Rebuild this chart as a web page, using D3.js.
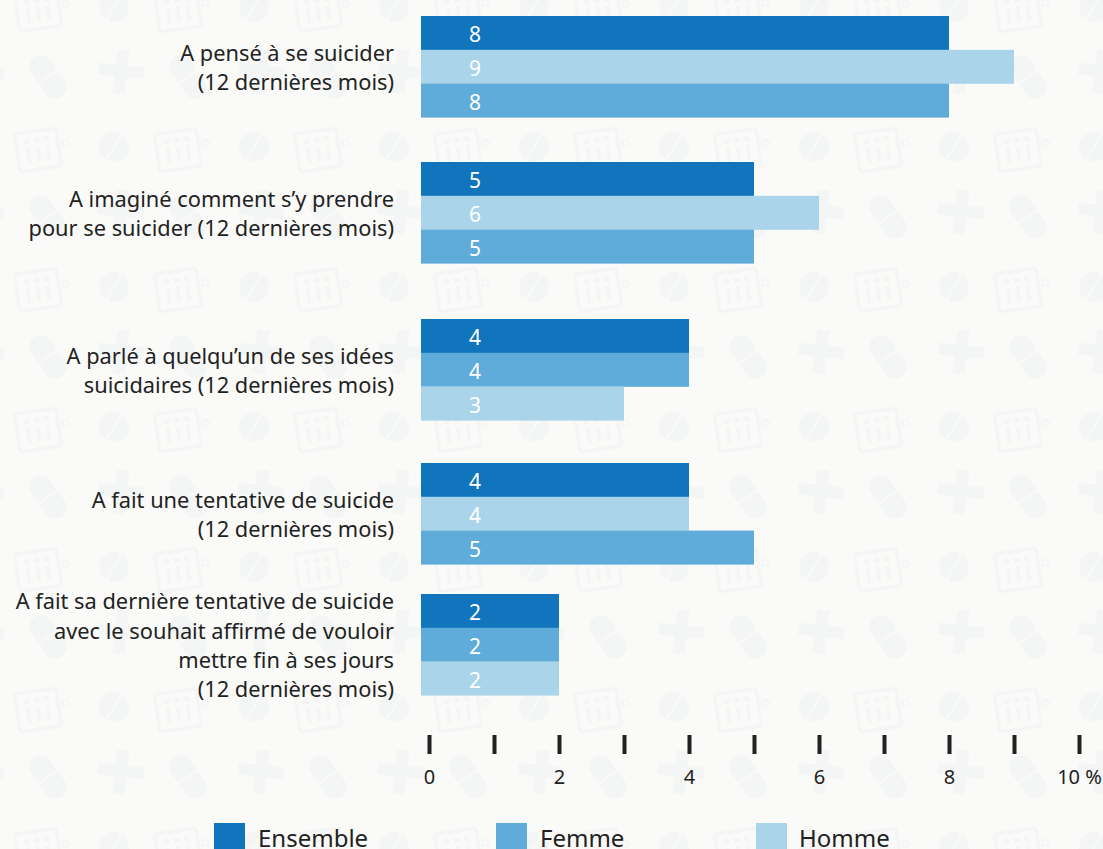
<!DOCTYPE html>
<html lang="fr"><head><meta charset="utf-8">
<script src="https://cdn.jsdelivr.net/npm/d3@7"></script>
<style>html,body{margin:0;padding:0;background:#fafaf8;overflow:hidden}svg{display:block}text{font-family:"Noto Sans",sans-serif}</style>
</head><body><div id="c"></div>
<script>
const categories = [
  ["A pensé à se suicider","(12 dernières mois)"],
  ["A imaginé comment s’y prendre","pour se suicider (12 dernières mois)"],
  ["A parlé à quelqu’un de ses idées","suicidaires (12 dernières mois)"],
  ["A fait une tentative de suicide","(12 dernières mois)"],
  ["A fait sa dernière tentative de suicide","avec le souhait affirmé de vouloir","mettre fin à ses jours","(12 dernières mois)"]
];
const seriesNames = ["Ensemble","Femme","Homme"];
const colors = ["#1075bd","#5fabd9","#aad4e9"];
const ensemble = [8,5,4,4,2];
const femme = [8,5,4,5,2];
const homme = [9,6,3,4,2];
const rowOrder = [["Ensemble","Homme","Femme"],["Ensemble","Homme","Femme"],["Ensemble","Femme","Homme"],["Ensemble","Homme","Femme"],["Ensemble","Femme","Homme"]];
const groupTops = [16,162,319,463,594];
const tickValues = [0,1,2,3,4,5,6,7,8,9,10];
const tickLabels = {0:"0",2:"2",4:"4",6:"6",8:"8",10:"10 %"};

const W=1103,H=849;
const svg=d3.select("#c").append("svg").attr("width",W).attr("height",H);
const defs=svg.append("defs");
const ic="#f4f6f5", bg="#fafaf8";
const p=defs.append("pattern").attr("id","bgp").attr("patternUnits","userSpaceOnUse")
  .attr("x",10).attr("y",50).attr("width",140).attr("height",140).attr("viewBox","10 50 140 140");
const pill=p.append("g").attr("transform","translate(48,77) rotate(-35)");
pill.append("rect").attr("x",-11.5).attr("y",-24).attr("width",23).attr("height",48).attr("rx",11.5).attr("fill",ic);
pill.append("line").attr("x1",-12).attr("x2",12).attr("y1",0).attr("y2",0).attr("stroke",bg).attr("stroke-width",2);
const plus=p.append("g").attr("transform","translate(121,71) rotate(6)").attr("fill",ic);
plus.append("rect").attr("x",-23).attr("y",-6).attr("width",46).attr("height",12);
plus.append("rect").attr("x",-6).attr("y",-23).attr("width",12).attr("height",46);
const tab=p.append("g").attr("transform","translate(114,147)");
tab.append("circle").attr("r",15).attr("fill",ic);
tab.append("line").attr("x1",-9).attr("y1",15).attr("x2",9).attr("y2",-15).attr("stroke",bg).attr("stroke-width",2);
const card=p.append("g").attr("transform","translate(38,150) rotate(-8)");
card.append("rect").attr("x",-21).attr("y",-19).attr("width",42).attr("height",38).attr("rx",3).attr("fill","none").attr("stroke",ic).attr("stroke-width",3.5);
card.append("circle").attr("cx",28).attr("cy",-3).attr("r",3.5).attr("fill","none").attr("stroke",ic).attr("stroke-width",2);
[-10,0,10].forEach(dx=>{
  card.append("circle").attr("cx",dx).attr("cy",-10).attr("r",3).attr("fill",ic);
  card.append("rect").attr("x",dx-2).attr("y",-4).attr("width",4).attr("height",16).attr("rx",2).attr("fill",ic);
});
svg.append("rect").attr("width",W).attr("height",H).attr("fill",bg);
svg.append("rect").attr("width",W).attr("height",H).attr("fill","url(#bgp)");

const x=d3.scaleLinear().domain([0,10]).range([429,1079]);
const barStart=421, rowH=33.8;
const valueOf={Ensemble:ensemble,Femme:femme,Homme:homme};
const color=d3.scaleOrdinal(seriesNames,colors);

categories.forEach((lines,i)=>{
  const g=svg.append("g");
  const top=groupTops[i];
  rowOrder[i].forEach((s,j)=>{
    const v=valueOf[s][i];
    g.append("rect").attr("x",barStart).attr("y",top+j*rowH).attr("width",x(v)-barStart).attr("height",rowH+0.2).attr("fill",color(s));
    g.append("text").attr("x",475).attr("y",top+j*rowH+rowH/2+9).attr("text-anchor","middle").attr("fill","#fff").attr("font-size",21).text(v);
  });
  const cy=top+rowH*1.5, lh=29.2;
  lines.forEach((l,k)=>{
    g.append("text").attr("x",394).attr("y",cy+(k-(lines.length-1)/2)*lh+8.5).attr("text-anchor","end")
      .attr("fill","#222").attr("font-size",21.8).text(l);
  });
});

const ax=svg.append("g").attr("transform","translate(0,735)")
 .call(d3.axisBottom(x).tickValues(tickValues).tickSize(19).tickPadding(16).tickFormat(d=>tickLabels[d]||""));
ax.select(".domain").remove();
ax.selectAll(".tick line").attr("stroke","#222").attr("stroke-width",4);
ax.selectAll(".tick text").attr("font-size",20).attr("fill","#222").style("font-family",'"Noto Sans",sans-serif');

const legX=[214,496,756], legW=[31,31,31], legT=[258,540,799];
seriesNames.forEach((s,i)=>{
  svg.append("rect").attr("x",legX[i]).attr("y",823).attr("width",legW[i]).attr("height",30).attr("fill",color(s));
  svg.append("text").attr("x",legT[i]).attr("y",847).attr("font-size",24).attr("fill","#222").text(s);
});
</script></body></html>
